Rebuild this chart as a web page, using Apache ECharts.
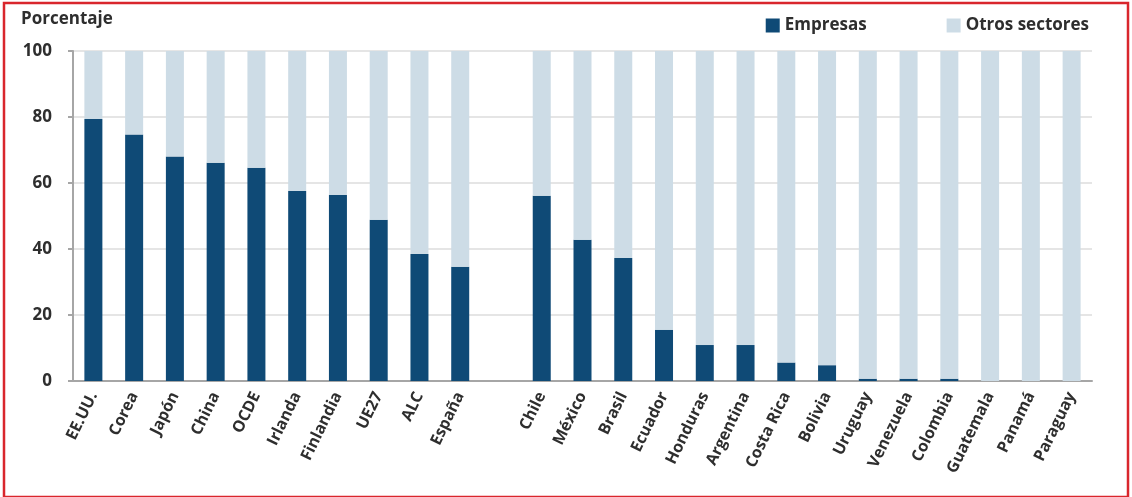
<!DOCTYPE html>
<html>
<head>
<meta charset="utf-8">
<script src="https://cdn.jsdelivr.net/npm/echarts@6/dist/echarts.min.js"></script>
<style>
  html, body { margin: 0; padding: 0; background: #fff; }
  #chart { width: 1132px; height: 497px; }
</style>
</head>
<body>
<div id="chart"></div>
<script>
// Countries and groups; the empty name leaves a gap between the two blocks
const categories = ['EE.UU.', 'Corea', 'Japón', 'China', 'OCDE', 'Irlanda', 'Finlandia', 'UE27', 'ALC', 'España', '',
  'Chile', 'México', 'Brasil', 'Ecuador', 'Honduras', 'Argentina', 'Costa Rica', 'Bolivia',
  'Uruguay', 'Venezuela', 'Colombia', 'Guatemala', 'Panamá', 'Paraguay'];

// Share of R&D financed by business (percent)
const empresas = [79.4, 74.7, 68.0, 66.1, 64.6, 57.6, 56.4, 48.9, 38.5, 34.6, null,
  56.1, 42.8, 37.3, 15.5, 10.9, 10.9, 5.6, 4.8, 0.7, 0.7, 0.7, 0, 0, 0];

// Share financed by other sectors = remainder to 100
const otros = empresas.map(v => v === null ? null : +(100 - v).toFixed(1));

const yTicks = [0, 20, 40, 60, 80, 100];

const chart = echarts.init(document.getElementById('chart'));
const font = '"Open Sans", Lato, sans-serif';
const ink = '#2e2e2e';

chart.setOption({
  animation: false,
  textStyle: { fontFamily: font },
  graphic: [{
    type: 'rect',
    shape: { x: 4, y: 3, width: 1124, height: 494 },
    style: { fill: 'none', stroke: '#d9262c', lineWidth: 2.5 }
  }, {
    type: 'text',
    left: 21, top: 11,
    style: { text: 'Porcentaje', fontFamily: font, fontWeight: 'bold', fontSize: 17, fill: ink }
  }],
  legend: {
    top: 12, right: 38,
    itemWidth: 14, itemHeight: 14, itemGap: 80,
    icon: 'rect',
    textStyle: { fontFamily: font, fontWeight: 'bold', fontSize: 17, color: ink },
    data: ['Empresas', 'Otros sectores']
  },
  grid: { left: 73, right: 40, top: 51, bottom: 116 },
  xAxis: {
    type: 'category',
    data: categories,
    axisLine: { lineStyle: { color: '#a6a6a6', width: 2 } },
    axisTick: { alignWithLabel: false, length: 5, lineStyle: { color: '#a6a6a6', width: 2 } },
    axisLabel: {
      rotate: 64, interval: 0, margin: 12,
      fontFamily: font, fontWeight: 'bold', fontSize: 16, color: ink
    }
  },
  yAxis: {
    type: 'value', min: 0, max: 100, interval: 20,
    axisLine: { show: true, lineStyle: { color: '#a6a6a6', width: 2 } },
    axisTick: { show: true, length: 5, lineStyle: { color: '#a6a6a6', width: 2 } },
    splitLine: { lineStyle: { color: '#dcdcdc', width: 1.5 } },
    axisLabel: {
      margin: 21, fontFamily: font, fontWeight: 'bold', fontSize: 17, color: ink,
      formatter: v => yTicks.includes(v) ? String(v) : ''
    }
  },
  series: [{
    name: 'Empresas', type: 'bar', stack: 'total',
    data: empresas, barWidth: 18,
    itemStyle: { color: '#0f4a76' }
  }, {
    name: 'Otros sectores', type: 'bar', stack: 'total',
    data: otros, barWidth: 18,
    itemStyle: { color: '#cddce6' }
  }]
});
</script>
</body>
</html>
